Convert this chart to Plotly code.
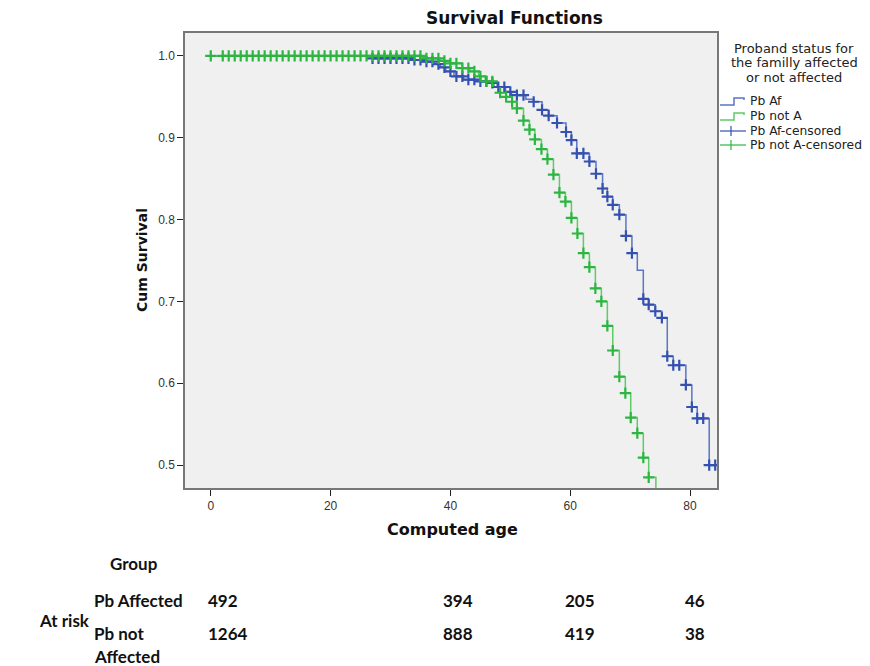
import numpy as np
import plotly.graph_objects as go

# ---------------- data ----------------
# Pb Af (proband affected): step times and survival after each step
af_time = [0, 27.0, 33.8, 35.3, 37.2, 38.3, 39.2, 40.6, 42.2, 44.4, 46.1, 47.8, 49.2, 50.2,
           52.6, 53.9, 55.3, 56.4, 57.8, 59.3, 60.2, 61.1, 63.2, 64.3, 65.4, 66.2, 67.1, 68.2,
           69.3, 70.3, 71.2, 72.2, 73.1, 74.2, 75.3, 76.2, 77.2, 79.3, 80.3, 81.2, 83.2, 84.4]
af_surv = [1.0, 0.997, 0.995, 0.993, 0.990, 0.986, 0.981, 0.975, 0.971, 0.969, 0.967, 0.962, 0.956, 0.952,
           0.947, 0.944, 0.934, 0.927, 0.918, 0.907, 0.897, 0.881, 0.871, 0.856, 0.838, 0.828, 0.818, 0.806,
           0.780, 0.759, 0.738, 0.703, 0.696, 0.688, 0.680, 0.633, 0.622, 0.598, 0.571, 0.557, 0.500, 0.500]
af_cens = [27, 28, 29, 30, 31, 32, 33, 34, 35, 36, 37, 38, 39, 40, 41, 42, 43, 44, 45, 46, 47, 48, 49, 50,
           51.1, 52.2, 53.9, 55.3, 56.4, 57.8, 59.3, 60.2, 61.1, 62.2, 63.2, 64.3, 65.4, 66.2, 67.1,
           68.2, 69.3, 70.3, 72.2, 73.1, 74.2, 75.3, 76.2, 77.2, 78.2, 79.3, 80.3, 81.2, 82.2, 83.2, 84.2]

# Pb not A (proband not affected)
na_time = [0, 35.5, 38.3, 40.0, 42.0, 43.3, 44.7, 45.8, 47.3, 48.3, 49.3, 50.3, 51.1, 52.2, 53.2,
           54.1, 55.2, 56.2, 57.2, 58.2, 59.2, 60.2, 61.2, 62.2, 63.2, 64.2, 65.2, 66.2, 67.1, 68.2,
           69.2, 70.1, 71.2, 72.2, 73.1, 74.3, 75.0]
na_surv = [1.0, 0.997, 0.994, 0.991, 0.985, 0.981, 0.975, 0.969, 0.962, 0.955, 0.950, 0.944, 0.936, 0.921, 0.910,
           0.898, 0.886, 0.874, 0.855, 0.833, 0.822, 0.802, 0.783, 0.759, 0.742, 0.716, 0.700, 0.670, 0.640, 0.608,
           0.588, 0.558, 0.539, 0.509, 0.485, 0.400, 0.400]
na_cens = [0, 2, 3, 4, 5, 6, 7, 8, 9, 10, 11, 12, 13, 14, 15, 16, 17, 18, 19, 20, 21, 22, 23, 24, 25,
           26, 27, 28, 29, 30, 31, 32, 33, 34, 35, 36, 37, 38, 39, 40, 41, 42, 43, 44, 45, 46, 47,
           48.3, 49.3, 50.3, 51.1, 52.2, 53.2, 54.1, 55.2, 56.2, 57.2, 58.2, 59.2, 60.2, 61.2, 62.2,
           63.2, 64.2, 65.2, 66.2, 67.1, 68.2, 69.2, 70.1, 71.2, 72.2, 73.1]

x_ticks = [0, 20, 40, 60, 80]
y_ticks = [0.5, 0.6, 0.7, 0.8, 0.9, 1.0]

risk_groups = ["Pb Affected", "Pb not", "Affected"]
risk_ages = [0, 40, 60, 80]
risk_af = [492, 394, 205, 46]
risk_na = [1264, 888, 419, 38]

legend_title = ["Proband status for", "the familly affected", "or not affected"]
legend_labels = ["Pb Af", "Pb not A", "Pb Af-censored", "Pb not A-censored"]


def surv_at(times, surv, t):
    idx = np.searchsorted(np.array(times), np.array(t), side="right") - 1
    return list(np.array(surv)[idx])


BLUE_LINE = "#5a74c6"
BLUE_MARK = "#3451b0"
GREEN_LINE = "#5dcb66"
GREEN_MARK = "#2cb541"

fig = go.Figure()
fig.add_trace(go.Scatter(x=af_time, y=af_surv, mode="lines", line=dict(shape="hv", color=BLUE_LINE, width=1.5),
                         showlegend=False, hoverinfo="skip"))
fig.add_trace(go.Scatter(x=na_time, y=na_surv, mode="lines", line=dict(shape="hv", color=GREEN_LINE, width=1.5),
                         showlegend=False, hoverinfo="skip"))
fig.add_trace(go.Scatter(x=af_cens, y=surv_at(af_time, af_surv, af_cens), mode="markers",
                         marker=dict(symbol="cross-thin", size=8, line=dict(color=BLUE_MARK, width=2.2)),
                         showlegend=False, cliponaxis=True))
fig.add_trace(go.Scatter(x=na_cens, y=surv_at(na_time, na_surv, na_cens), mode="markers",
                         marker=dict(symbol="cross-thin", size=8, line=dict(color=GREEN_MARK, width=2.2)),
                         showlegend=False, cliponaxis=True))

# plot area in pixels
L, R, T, B = 185, 717, 33, 488
W, H = 870, 666


def px(xp):
    return (xp - L) / (R - L)


def py(yp):
    return (B - yp) / (B - T)


fig.update_layout(
    width=W, height=H,
    margin=dict(l=L, r=W - R, t=T, b=H - B),
    paper_bgcolor="white", plot_bgcolor="#f0f0f0",
    font=dict(family="Liberation Sans, Arial", size=12, color="#333333"),
    xaxis=dict(range=[-4.3, 84.5], tickvals=x_ticks, ticks="outside", ticklen=6, tickcolor="#222",
               showgrid=False, zeroline=False, showline=True, linecolor="#777", linewidth=1.5, mirror=True,
               tickfont=dict(size=12, color="#333")),
    yaxis=dict(range=[0.472, 1.028], tickvals=y_ticks, tickformat=".1f", ticks="outside", ticklen=6,
               tickcolor="#222", showgrid=False, zeroline=False, showline=True, linecolor="#777",
               linewidth=1.5, mirror=True, tickfont=dict(size=12, color="#333")),
)

ann = []


def add_text(text, x, y, size, xanchor="center", color="#111", family=None, **kw):
    f = dict(size=size, color=color)
    if family:
        f["family"] = family
    ann.append(dict(text=text, x=px(x), y=py(y), xref="paper", yref="paper", showarrow=False,
                    xanchor=xanchor, yanchor="middle", font=f, **kw))


DV = "DejaVu Sans"
add_text("<b>Survival Functions</b>", 514, 18, 17, family=DV)
add_text("<b>Computed age</b>", 452, 529, 16, family=DV)
add_text("<b>Cum Survival</b>", 142, 260, 14, textangle=-90, family=DV)
for k, line in enumerate(legend_title):
    add_text(line, 794, 49 + 14 * k, 13, color="#222", family=DV)

shapes = []
row_y = [101, 116, 131, 145]
for i, lab in enumerate(legend_labels):
    add_text(lab, 748, row_y[i], 12.3, xanchor="left", color="#222", family=DV)
glyph_col = [BLUE_LINE, GREEN_LINE]
for i in range(2):
    yb = py(row_y[i] + 4)
    yt = py(row_y[i] - 3)
    path = f"M {px(720)} {yb} L {px(734)} {yb} L {px(734)} {yt} L {px(744)} {yt} L {px(744)} {py(row_y[i]-1)}"
    shapes.append(dict(type="path", path=path, xref="paper", yref="paper", line=dict(color=glyph_col[i], width=1.5)))
cens_col = [BLUE_MARK, GREEN_MARK]
for i in range(2):
    yc = row_y[i + 2]
    shapes.append(dict(type="line", x0=px(720), x1=px(746), y0=py(yc), y1=py(yc), xref="paper", yref="paper",
                       line=dict(color=cens_col[i], width=1.2)))
    shapes.append(dict(type="line", x0=px(731), x1=px(731), y0=py(yc - 5), y1=py(yc + 5), xref="paper",
                       yref="paper", line=dict(color=cens_col[i], width=1.2)))

# risk table
TF = "Lato, Carlito, Liberation Sans"
TS = 17
add_text("<b>Group</b>", 108, 563, TS, xanchor="left", family=TF)
add_text("<b>At risk</b>", 37, 620, TS, xanchor="left", family=TF)
add_text("<b>" + risk_groups[0] + "</b>", 92, 600, TS, xanchor="left", family=TF)
add_text("<b>" + risk_groups[1] + "</b>", 92, 633, TS, xanchor="left", family=TF)
add_text("<b>" + risk_groups[2] + "</b>", 92, 656, TS, xanchor="left", family=TF)
col_x = [206, 441, 563, 683]
for j in range(len(risk_ages)):
    add_text(f"<b>{risk_af[j]}</b>", col_x[j], 600, TS, xanchor="left", family=TF)
    add_text(f"<b>{risk_na[j]}</b>", col_x[j], 633, TS, xanchor="left", family=TF)

fig.update_layout(annotations=ann, shapes=shapes)
fig.write_html("out.html")
